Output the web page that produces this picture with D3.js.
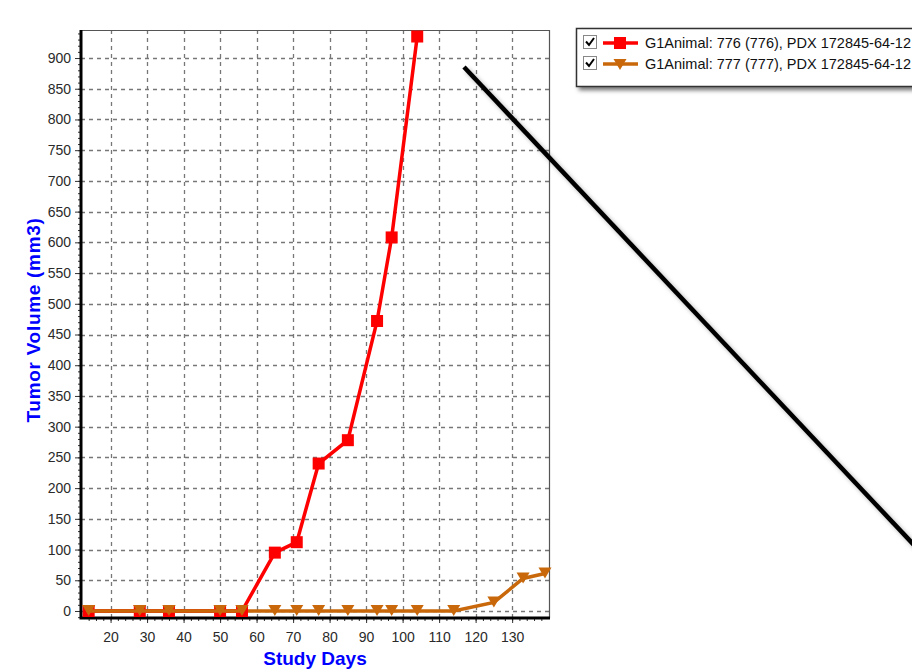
<!DOCTYPE html>
<html>
<head>
<meta charset="utf-8">
<script src="https://cdn.jsdelivr.net/npm/d3@7"></script>
<style>
  body { margin: 0; background: #fff; }
  svg { display: block; font-family: "Liberation Sans", Arial, sans-serif; }
  .tick text { fill: #2a2a2a; font-size: 14px; }
</style>
</head>
<body>
<div id="chart"></div>
<script>
// data
var days776 = [14, 28, 36, 50, 56, 65, 71, 77, 85, 93, 97, 104];
var vol776  = [0, 0, 0, 0, 0, 95, 112, 240, 278, 472, 608, 935];
var days777 = [14, 28, 36, 50, 56, 65, 71, 77, 85, 93, 97, 104, 114, 125, 133, 139];
var vol777  = [0, 0, 0, 0, 0, 0, 0, 0, 0, 0, 0, 0, 0, 14, 53, 61];
var xTicks = [20, 30, 40, 50, 60, 70, 80, 90, 100, 110, 120, 130];
var yTicks = d3.range(0, 901, 50);
var legendLabels = ["G1Animal: 776 (776), PDX 172845-64-12", "G1Animal: 777 (777), PDX 172845-64-12"];

var svgWidth = 912, svgHeight = 671;
var plot = { left: 81, right: 549, top: 30, bottom: 618 };

var svg = d3.select("#chart").append("svg")
  .attr("width", svgWidth)
  .attr("height", svgHeight);

var defs = svg.append("defs");
var shadow = defs.append("filter").attr("id", "shadow")
  .attr("x", "-10%").attr("y", "-10%").attr("width", "130%").attr("height", "160%");
shadow.append("feDropShadow").attr("dx", 3).attr("dy", 3).attr("stdDeviation", 2)
  .attr("flood-color", "#000").attr("flood-opacity", 0.55);
var lineShadow = defs.append("filter").attr("id", "lineShadow")
  .attr("x", "-10%").attr("y", "-10%").attr("width", "130%").attr("height", "130%");
lineShadow.append("feDropShadow").attr("dx", 3).attr("dy", 3).attr("stdDeviation", 2)
  .attr("flood-color", "#000").attr("flood-opacity", 0.3);
defs.append("clipPath").attr("id", "plotClip").append("rect")
  .attr("x", plot.left).attr("y", plot.top - 8)
  .attr("width", plot.right - plot.left + 8).attr("height", plot.bottom - plot.top + 8);

// scales
var x = d3.scaleLinear().domain([11.9, 140.1]).range([plot.left, plot.right]);
var y = d3.scaleLinear().domain([-11.4, 945.6]).range([plot.bottom, plot.top]);

// grid
var grid = svg.append("g").attr("stroke", "#777").attr("stroke-width", 1.3)
  .attr("stroke-dasharray", "4,4");
grid.selectAll(".vg").data(xTicks).enter().append("line")
  .attr("x1", d => Math.round(x(d)) + 0.5).attr("x2", d => Math.round(x(d)) + 0.5)
  .attr("y1", plot.top).attr("y2", plot.bottom);
grid.selectAll(".hg").data(yTicks).enter().append("line")
  .attr("y1", d => Math.round(y(d)) + 0.5).attr("y2", d => Math.round(y(d)) + 0.5)
  .attr("x1", plot.left).attr("x2", plot.right);

// frame top/right
svg.append("path")
  .attr("d", `M${plot.left},${plot.top + 0.5}H${plot.right + 0.5}V${plot.bottom}`)
  .attr("fill", "none").attr("stroke", "#555").attr("stroke-width", 1.2);

// axes
var bottomAxis = d3.axisBottom(x).tickValues(xTicks).tickSize(5).tickPadding(9);
var leftAxis = d3.axisLeft(y).tickValues(yTicks).tickSize(6).tickPadding(4);

var xMinor = svg.append("g").attr("transform", `translate(0,${plot.bottom})`)
  .call(d3.axisBottom(x).tickValues(d3.range(14, 140, 2)).tickSize(3).tickFormat(""));
xMinor.select(".domain").remove();
xMinor.selectAll("line").attr("stroke", "#333");

var yMinor = svg.append("g").attr("transform", `translate(${plot.left},0)`)
  .call(d3.axisLeft(y).tickValues(d3.range(-10, 941, 10)).tickSize(3).tickFormat(""));
yMinor.select(".domain").remove();
yMinor.selectAll("line").attr("stroke", "#333");

var xAxis = svg.append("g").attr("transform", `translate(0,${plot.bottom})`).call(bottomAxis);
xAxis.select(".domain").remove();
xAxis.selectAll("line").attr("stroke", "#333");

var yAxis = svg.append("g").attr("transform", `translate(${plot.left},0)`).call(leftAxis);
yAxis.select(".domain").remove();
yAxis.selectAll("line").attr("stroke", "#333");

svg.append("path")
  .attr("d", `M${plot.left},${plot.top}V${plot.bottom}H${plot.right + 1}`)
  .attr("fill", "none").attr("stroke", "#000").attr("stroke-width", 3);

// axis titles
svg.append("text")
  .attr("transform", `translate(40,320)rotate(-90)`)
  .attr("text-anchor", "middle")
  .attr("fill", "#0000ff").attr("font-weight", "bold").attr("font-size", "19px")
  .attr("letter-spacing", "0.7px")
  .text("Tumor Volume (mm3)");
svg.append("text")
  .attr("x", 315).attr("y", 665)
  .attr("text-anchor", "middle")
  .attr("fill", "#0000ff").attr("font-weight", "bold").attr("font-size", "19px")
  .text("Study Days");

// series
var line = d3.line().x(d => x(d[0])).y(d => y(d[1]));
var data776 = days776.map((d, i) => [d, vol776[i]]);
var data777 = days777.map((d, i) => [d, vol777[i]]);
var red = "#ff0000", orange = "#c8680a";

var series = svg.append("g").attr("clip-path", "url(#plotClip)");

function drawTriangles(g, data, color) {
  g.selectAll(".tri").data(data).enter().append("path")
    .attr("d", d => `M${x(d[0]) - 6.5},${y(d[1]) - 6}h13l-6.5,11z`)
    .attr("fill", color);
}
function drawSquares(g, data, color) {
  g.selectAll(".sq").data(data).enter().append("rect")
    .attr("x", d => x(d[0]) - 6).attr("y", d => y(d[1]) - 6)
    .attr("width", 12).attr("height", 12).attr("fill", color);
}

var g777 = series.append("g");
var g776 = series.append("g");

g776.append("path").datum(data776).attr("d", line)
  .attr("fill", "none").attr("stroke", red).attr("stroke-width", 3.5);
drawSquares(g776, data776, red);

g777.append("path").datum(data777).attr("d", line)
  .attr("fill", "none").attr("stroke", orange).attr("stroke-width", 3.5);
drawTriangles(g777, data777, orange);
// orange line lies over the red baseline
series.append("path").datum(data777.slice(0, 5)).attr("d", line)
  .attr("fill", "none").attr("stroke", orange).attr("stroke-width", 3.5);
var gTop = series.append("g");
drawTriangles(gTop, data777.slice(0, 5), orange);

// annotation stroke
svg.append("line")
  .attr("x1", 464).attr("y1", 67).attr("x2", 930).attr("y2", 562)
  .attr("stroke", "#000").attr("stroke-width", 4.5)
  .attr("filter", "url(#lineShadow)");

// legend
var legend = svg.append("g").attr("transform", "translate(576,28)");
legend.append("rect")
  .attr("x", 0.5).attr("y", 0.5).attr("width", 360).attr("height", 58)
  .attr("fill", "#fff").attr("stroke", "#333").attr("stroke-width", 1.5)
  .attr("filter", "url(#shadow)");

var legendColors = [red, orange];
legendLabels.forEach(function(label, i) {
  var row = legend.append("g").attr("transform", `translate(0,${15 + i * 21})`);
  row.append("rect").attr("x", 7.5).attr("y", -7.5).attr("width", 13).attr("height", 13)
    .attr("fill", "#fff").attr("stroke", "#888");
  row.append("path").attr("d", "M10,-1.5l3,3.5l5,-7")
    .attr("fill", "none").attr("stroke", "#000").attr("stroke-width", 2);
  row.append("line").attr("x1", 27).attr("x2", 62).attr("y1", 0).attr("y2", 0)
    .attr("stroke", legendColors[i]).attr("stroke-width", 3.5);
  if (i === 0) {
    row.append("rect").attr("x", 38).attr("y", -6).attr("width", 12).attr("height", 12)
      .attr("fill", red);
  } else {
    row.append("path").attr("d", "M37.5,-5h13l-6.5,11z").attr("fill", orange);
  }
  row.append("text").attr("x", 69).attr("y", 5)
    .attr("font-size", "14.5px").attr("fill", "#111")
    .text(label);
});
</script>
</body>
</html>
